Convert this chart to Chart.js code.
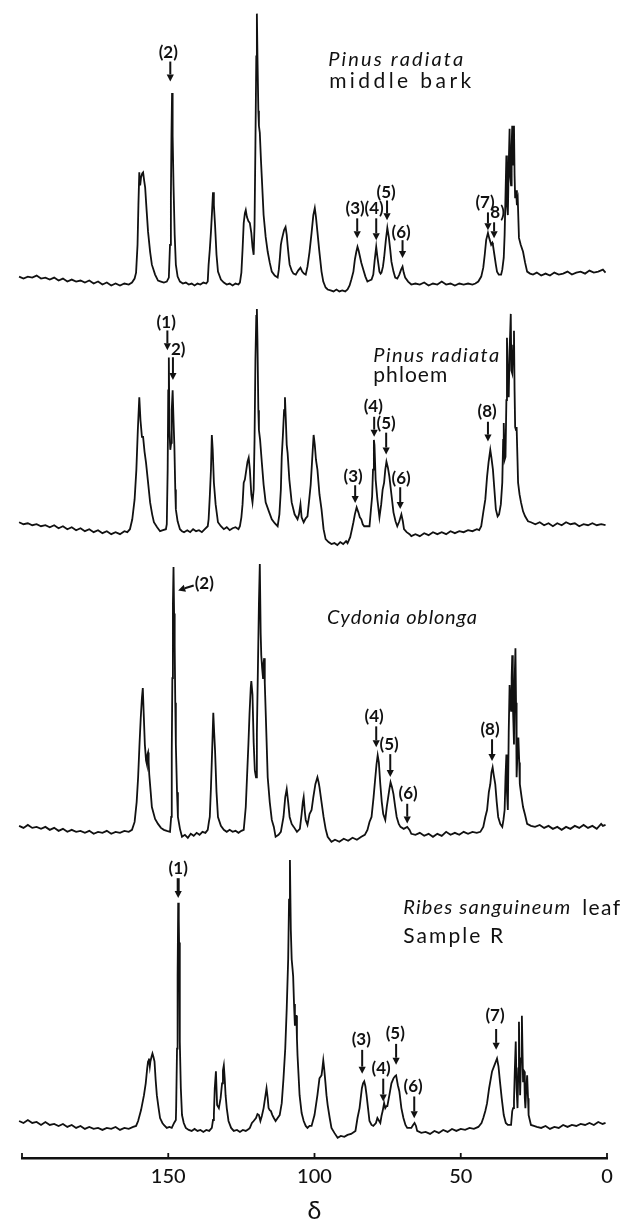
<!DOCTYPE html>
<html>
<head>
<meta charset="utf-8">
<script src="https://cdn.jsdelivr.net/npm/chart.js@4"></script>
<style>
  html, body { margin: 0; padding: 0; background: #ffffff; }
  #wrap { width: 626px; height: 1228px; position: relative; }
  canvas { display: block; }
</style>
</head>
<body>
<div id="wrap"><canvas id="c" width="626" height="1228"></canvas></div>
<script>
// ---- DATA (chemical shift δ, intensity) ----
const tickValues = [150, 100, 50, 0];

const barkData = [[201,8],[199.5,6],[198,8],[196.5,7],[195,9],[193.5,6],[192,7],[190.5,5],[189,7],[187.5,4],[186,6],[184.5,3],[183,5],[181.5,3],[180,4],[178.5,2],[177,4],[175.5,1],[174,3],[172.5,0],[171,2],[169.5,-1],[168,1],[166.5,-1],[165,1],[163.5,0],[162.4,2],
[161.5,6],[161,12],[160.5,40],[160.2,80],[159.9,113],[159.6,100],[159.3,108],[158.9,112],[158.6,113],[158.2,104],[157.9,98],[157.4,75],[156.9,53],[156.2,33],[155.6,20],[154.5,10],[153.5,4],[152.5,3],[151.5,2],[150.5,3],[149.8,7],[149.4,40],[149.1,87],[148.9,150],[148.7,193],[148.5,150],[148.2,100],[147.8,50],[147.4,20],[146.8,8],[146,3],[145,1],[144,2],[143,0],[142,1],[141,-1],[140,1],[139,0],[138,2],[137,1],[136.5,3],[136.2,20],[135.8,35],[135.4,53],[135,75],[134.7,93],[134.4,80],[134,60],[133.5,30],[133,13],[132,5],[131,2],[130,0],[129,1],[128,-1],[127,1],[126,0],[125.5,2],[125,12],[124.6,35],[124.2,62],[123.8,72],[123.5,75],[123.1,68],[122.6,64],[122.1,62],[121.6,52],[121.2,38],[120.8,30],[120.5,60],[120.2,140],[119.9,230],[119.7,273],[119.5,230],[119.2,175],[119,160],[118.7,153],[118.3,125],[118,107],[117.4,70],[116.7,48],[116,33],[115.3,22],[114.6,13],[113.6,9],[112.6,7],[112.2,15],[111.9,25],[111.5,40],[111.2,45],[110.8,50],[110.4,55],[109.9,58],[109.5,50],[109.2,40],[108.8,28],[108.5,20],[107.8,14],[107.2,11],[106.4,10],[105.6,14],[104.8,17],[104.2,13],[103.6,11],[103,10],[102.4,18],[101.7,33],[101,52],[100.4,70],[99.9,77],[99.5,68],[99,53],[98.4,35],[97.6,13],[97,3],[96.2,-3],[95.5,-5],[94.5,-6],[93.5,-7],[92.5,-5],[91.5,-7],[90.5,-6],[89.5,-7],[88.7,-5],[88,-1],[87.4,5],[86.7,13],[86.2,25],[85.7,33],[85.3,38],[84.9,34],[84.6,30],[84,22],[83.3,15],[82.6,8],[81.9,3],[81.2,4],[80.5,5],[79.9,10],[79.4,25],[78.9,38],[78.5,28],[77.8,13],[77.4,11],[77.1,12],[76.6,18],[76.2,27],[75.6,45],[75.1,57],[74.6,48],[74.1,35],[73.7,23],[73,13],[72.4,7],[71.7,6],[71,10],[70.4,15],[69.9,18],[69.5,12],[69,7],[68,3],[66.9,0],[65.5,1],[64,0],[62.5,2],[61,-1],[59.5,1],[58,0],[56.5,3],[55,0],[53.5,1],[52,-1],[50.5,1],[49,0],[47.5,1],[46,0],[45,1],[44,3],[43,8],[42.3,17],[41.8,30],[41.3,45],[40.7,52],[40.2,46],[39.6,40],[39.2,42],[39,40],[38.5,30],[38,20],[37.6,13],[37,10],[36.2,10],[35.8,15],[35.3,27],[35,50],[34.7,90],[34.4,130],[34.2,80],[33.9,70],[33.6,120],[33.3,157],[33.1,110],[32.8,100],[32.6,140],[32.4,160],[32.2,120],[32,150],[31.8,160],[31.6,110],[31.4,87],[31.1,95],[30.8,80],[30.5,85],[30.1,47],[29.5,40],[28.7,33],[28,22],[27.3,13],[26.3,11],[25.3,10],[24,12],[22.5,9],[21,11],[19.5,9],[18,12],[16.5,10],[15,11],[13.5,13],[12,10],[10.5,12],[9,13],[7.5,11],[6,14],[4.5,12],[3,13],[1.4,15],[0.5,12]];

const phloemData = [[201,7],[199.5,5],[198,6],[196.5,4],[195,5],[193.5,3],[192,4],[190.5,2],[189,4],[187.5,1],[186,3],[184.5,0],[183,2],[181.5,-1],[180,1],[178.5,-2],[177,0],[175.5,-3],[174,-1],[172.5,-4],[171,-2],[169.5,-5],[168,-3],[166.5,-5],[165,-2],[164,-3],[163.1,0],
[162.3,10],[161.5,30],[160.9,60],[160.4,100],[159.9,133],[159.5,110],[159,93],[158.6,93],[158.1,78],[157.6,67],[157,50],[156.2,27],[155.5,15],[154.9,7],[153.8,2],[152.8,-2],[151.8,-1],[150.8,0],[150.5,5],[150.2,60],[150,140],[149.8,173],[149.6,100],[149.3,80],[149,87],[148.8,120],[148.5,140],[148.2,110],[147.9,83],[147.6,40],[147.4,20],[146.8,8],[146,0],[145.3,-2],[144.6,-3],[143.5,-1],[142.5,-3],[141.5,0],[140.5,-2],[139.5,-1],[138.5,-3],[137.5,0],[136.5,3],[136.2,10],[135.8,33],[135.4,60],[135.1,95],[134.8,80],[134.4,47],[133.8,25],[133,7],[132,3],[131,0],[130,2],[129,-1],[128,1],[127,2],[126,0],[125.5,3],[125,12],[124.6,25],[124.2,47],[123.8,50],[123.3,60],[122.9,68],[122.5,72],[122.1,60],[121.6,35],[121.2,27],[120.8,40],[120.5,90],[120.2,170],[119.9,215],[119.7,222],[119.5,190],[119.2,120],[119,100],[118.6,90],[118,67],[117.4,45],[116.7,27],[115.6,18],[114.6,10],[113.6,6],[112.6,3],[112,15],[111.5,40],[111.2,73],[110.8,95],[110.4,120],[110.1,133],[109.8,110],[109.5,85],[109.2,77],[108.6,50],[107.8,27],[106.8,15],[105.8,10],[105.3,15],[104.8,25],[104.4,12],[103.7,7],[103,11],[102.4,13],[101.8,30],[101.3,45],[100.8,70],[100.3,95],[99.9,85],[99.5,70],[99,60],[98.3,35],[97.6,20],[96.9,0],[96.2,-10],[95.2,-13],[94.2,-15],[93.2,-14],[92.2,-16],[91.2,-13],[90.2,-15],[89.2,-12],[88.7,-14],[87.8,-8],[87.2,0],[86.7,7],[86.2,15],[85.6,22],[85,17],[84.5,12],[84,10],[83.5,5],[83,3],[82,3],[81.2,3],[80.7,20],[80.3,33],[80,60],[79.7,90],[79.5,85],[79.1,50],[78.5,30],[77.8,12],[77.2,25],[76.7,40],[76.2,47],[75.8,60],[75.4,68],[74.9,62],[74.4,53],[73.7,35],[73,17],[72.3,8],[71.7,3],[71,8],[70.3,15],[69.8,8],[69.4,0],[68.5,-3],[67.5,-5],[66.9,-7],[65.5,-5],[64,-7],[62.5,-4],[61,-6],[59.5,-3],[58,-5],[56.5,-3],[55,-5],[53.5,-2],[52,-4],[50.5,-2],[49,-3],[47.5,-1],[46,-2],[44.5,0],[43.7,-1],[43,3],[42.3,17],[41.6,30],[41,53],[40.5,67],[39.9,80],[39.5,72],[39,60],[38.5,40],[38,20],[37.4,13],[36.9,15],[36.3,25],[35.8,47],[35.5,90],[35.3,107],[35,70],[34.7,73],[34.4,130],[34.2,193],[33.9,150],[33.6,133],[33.3,180],[32.9,217],[32.7,160],[32.4,157],[32.1,185],[31.8,200],[31.6,140],[31.4,103],[31.1,100],[30.9,103],[30.6,70],[30.4,47],[29.9,35],[29.4,27],[28.7,18],[28,13],[27,8],[26,7],[24.5,5],[23,7],[21.5,4],[20,6],[18.5,3],[17,6],[15.5,4],[14,7],[12.5,5],[11,6],[9.5,3],[8,5],[6.5,4],[5,6],[3.5,4],[2,5],[0.5,4]];

const cydoniaData = [[201,6],[199.5,4],[198,7],[196.5,4],[195,5],[193.5,3],[192,5],[190.5,2],[189,4],[187.5,1],[186,3],[184.5,0],[183,2],[181.5,0],[180,1],[178.5,-1],[177,1],[175.5,-2],[174,0],[172.5,-1],[171,1],[169.5,-2],[168,0],[166.5,-1],[165,1],[163.5,0],[162.4,2],
[161.5,10],[160.8,30],[160.3,55],[159.8,90],[159.4,115],[159,135],[158.7,145],[158.4,120],[158,88],[157.6,72],[157.3,68],[157.1,78],[156.9,80],[156.7,70],[156.5,58],[156,40],[155.6,25],[154.5,13],[153.5,8],[152.5,4],[151.5,2],[150.5,1],[149.4,0],[149,15],[148.8,80],[148.6,155],[148.4,230],[148.2,267],[148,220],[147.8,188],[147.6,130],[147.4,88],[147,40],[146.7,15],[146,3],[145.3,-5],[144.3,-3],[143.3,-6],[142.3,-2],[141.3,-4],[140.3,-1],[139.3,-3],[138.3,0],[137.3,-1],[136.5,2],[136.1,10],[135.8,15],[135.4,45],[135.1,72],[134.8,100],[134.6,120],[134.3,100],[134,82],[133.5,40],[133,15],[132,6],[131,2],[130,0],[129,2],[128,0],[127,1],[126,-1],[125,1],[124.2,2],[123.8,15],[123.5,25],[123,60],[122.6,88],[122.2,120],[121.8,145],[121.6,152],[121.2,138],[120.8,90],[120.4,62],[120,55],[119.7,100],[119.4,155],[119,230],[118.7,270],[118.4,200],[118.2,178],[117.9,165],[117.6,155],[117.4,170],[117.2,175],[117,150],[116.7,122],[116,55],[115.3,30],[114.6,12],[113.9,5],[113.3,-5],[112.3,-3],[111.5,0],[110.6,15],[110,35],[109.5,43],[109,30],[108.5,15],[107.8,8],[107.1,5],[106,0],[105,3],[104.4,18],[104,30],[103.7,35],[103.3,20],[103,12],[102.4,7],[101.7,18],[101,22],[100.4,35],[99.7,48],[99,55],[98.6,50],[98.3,45],[97.6,30],[96.9,15],[96.2,3],[95.5,-5],[94.2,-10],[93,-8],[91.5,-10],[90,-7],[88.5,-9],[87,-6],[85.5,-8],[84,-5],[82.8,-3],[81.9,2],[81.2,10],[80.5,15],[79.8,35],[79.2,55],[78.8,68],[78.4,77],[78,70],[77.5,48],[77,30],[76.5,18],[75.8,12],[75.3,25],[74.8,35],[74.4,43],[74,50],[73.5,45],[73,38],[72.4,25],[71.9,15],[71.2,8],[70.6,5],[69.5,3],[68.3,5],[67.5,2],[66.9,-2],[65.5,-3],[64,-1],[62.5,-4],[61,-2],[59.5,-5],[58,-2],[56.5,-4],[55,0],[53.5,-3],[52,-1],[50.5,-3],[49,0],[47.5,-2],[46,0],[44.5,-1],[43.3,0],[42.3,5],[41.6,15],[41,22],[40.4,40],[39.9,48],[39.5,60],[39.1,65],[38.7,57],[38.2,48],[37.7,30],[37.2,15],[36.5,8],[35.8,5],[35.4,12],[35,22],[34.7,55],[34.4,78],[34.2,40],[33.9,22],[33.6,100],[33.3,148],[33,130],[32.8,122],[32.6,155],[32.4,178],[32.2,130],[32,110],[31.8,88],[31.6,150],[31.3,185],[31.1,130],[30.9,55],[30.6,80],[30.3,95],[30,70],[29.8,48],[29.2,35],[28.7,25],[28,17],[27.3,8],[26,6],[24.6,5],[23,7],[21.5,4],[20,6],[18.5,3],[17,5],[15.5,2],[14,5],[12.5,3],[11,6],[9.5,4],[8,7],[6.5,4],[5,6],[3.5,3],[2,8],[1.4,6],[0.5,7]];

const ribesData = [[201,7],[199.5,5],[198,8],[196.5,5],[195,6],[193.5,3],[192,6],[190.5,3],[189,4],[187.5,2],[186,4],[184.5,1],[183,3],[181.5,0],[180,2],[178.5,-1],[177,1],[175.5,-1],[174,0],[172.5,-2],[171,0],[169.5,-1],[168,1],[166.5,-2],[165,0],[163.5,-1],[162,1],[161,2],[160.3,7],[159.3,18],[158.3,33],[157.7,45],[157.2,60],[156.9,67],[156.6,70],[156.3,62],[156.1,67],[155.7,72],[155.4,75],[155.1,72],[154.7,67],[154.3,48],[153.9,33],[153.3,20],[152.8,10],[152,5],[151.5,3],[150.5,0],[149.6,1],[148.8,0],[148,5],[147.4,8],[147.3,20],[147,80],[146.8,153],[146.6,227],[146.4,210],[146.3,187],[146.1,120],[146,87],[145.7,40],[145.3,13],[144.7,5],[144,0],[143,-2],[142,-3],[141,-1],[140,-3],[139,-2],[138,-4],[137,-2],[136,-3],[135.1,0],[134.7,8],[134.4,13],[134.1,40],[133.7,57],[133.5,40],[133.3,23],[132.7,20],[132.1,30],[131.6,45],[131.3,58],[131,63],[130.7,50],[130.4,33],[130,20],[129.4,7],[128.5,0],[127.6,-3],[126.5,-2],[125.5,-4],[124.5,-2],[123.5,-3],[122.5,-1],[122.1,0],[121.4,5],[120.8,7],[120,10],[119.5,14],[119,13],[118.5,7],[118,12],[117.4,20],[116.9,30],[116.4,40],[116,30],[115.7,20],[115.3,18],[114.9,17],[114.4,13],[113.9,10],[113.3,7],[112.6,10],[111.9,13],[111.2,25],[110.6,50],[110,80],[109.5,120],[109,170],[108.7,230],[108.4,270],[108.1,200],[107.8,170],[107.5,160],[107.3,153],[107,125],[106.7,103],[106.4,113],[106.2,113],[106,90],[105.8,73],[105.1,33],[104.4,15],[103.7,7],[103,2],[102.4,0],[101.7,2],[101,2],[100,13],[99,33],[98.3,50],[97.6,53],[97.3,60],[97,68],[96.7,60],[96.3,47],[95.9,33],[95.5,23],[94.8,10],[94.2,0],[93.2,-5],[92.1,-10],[91,-8],[89.8,-9],[88.7,-7],[87.5,-6],[86.5,-4],[86,-3],[85.3,10],[84.6,20],[84.2,30],[83.8,40],[83.4,45],[83,47],[82.6,42],[82.2,33],[81.7,20],[81.2,7],[80.5,3],[79.9,2],[79,5],[78.5,10],[78.1,8],[77.5,5],[77.1,12],[76.7,17],[76.2,25],[75.8,20],[75.4,22],[75.1,22],[74.4,33],[73.7,45],[73,50],[72.5,52],[72.1,53],[71.5,43],[71,37],[70.3,20],[69.6,10],[68.9,3],[68.3,0],[67.5,0],[66.9,0],[66.3,3],[65.8,5],[65.3,2],[64.9,-3],[63.5,-5],[62,-4],[60.5,-6],[59,-3],[57.5,-5],[56,-2],[54.5,-4],[53,-1],[51.5,-3],[50,-1],[48.5,-2],[47,0],[45.5,-1],[44,1],[42.9,5],[42.3,10],[41.6,17],[41,25],[40.3,40],[39.3,57],[38.5,63],[37.6,70],[37.1,62],[36.6,47],[36,30],[35.3,13],[34.6,5],[33.9,3],[32.8,3],[32.4,17],[32.1,20],[31.8,27],[31.5,60],[31.2,87],[30.9,40],[30.6,20],[30.3,60],[30.1,107],[29.9,70],[29.7,33],[29.4,70],[29.1,113],[28.9,80],[28.7,47],[28.5,58],[28.3,57],[28.1,30],[27.9,20],[27.6,40],[27.3,53],[27,30],[26.8,13],[26.4,8],[26,3],[25,2],[24,1],[22.5,0],[21,2],[19.5,-1],[18,1],[16.5,0],[15,3],[13.5,1],[12,3],[10.5,2],[9,4],[7.5,3],[6,5],[4.5,3],[3,6],[1.5,4],[0.5,5]];

// ---- ANNOTATIONS (positions in data units: δ and intensity of each trace) ----
const barkTexts = [
  {t:'(2)', at:150.0, v:233.7},
  {t:'Pinus radiata', at:95.3, v:226.7, italic:true, w:135, left:true},
  {t:'middle bark', at:95.0, v:204.7, w:142, left:true},
  {t:'(3)', at:86.1, v:76.7}, {t:'(4)', at:79.6, v:76.7}, {t:'(5)', at:75.5, v:92.7},
  {t:'(6)', at:70.4, v:52.7}, {t:'(7)', at:41.7, v:82.7}, {t:'8)', at:37.4, v:72.7}
];
const barkArrows = [
  {at:149.3, from:224.7, to:204.7}, {at:85.4, from:66.7, to:46.7}, {at:78.9, from:66.7, to:44.7},
  {at:75.2, from:84.7, to:64.7}, {at:69.9, from:44.7, to:26.7}, {at:40.7, from:72.7, to:54.7},
  {at:38.6, from:62.7, to:46.7}
];
const phloemTexts = [
  {t:'(1)', at:150.7, v:208.3}, {t:'2)', at:146.6, v:181.3},
  {t:'Pinus radiata', at:79.9, v:175.3, italic:true, w:126, left:true},
  {t:'phloem', at:79.9, v:155.3, w:74, left:true},
  {t:'(4)', at:79.9, v:123.3}, {t:'(5)', at:75.5, v:106.3}, {t:'(3)', at:86.8, v:53.3},
  {t:'(6)', at:70.4, v:51.3}, {t:'(8)', at:41.0, v:118.3}
];
const phloemArrows = [
  {at:150.3, from:200.3, to:180.3}, {at:148.4, from:173.3, to:150.3}, {at:79.6, from:113.3, to:93.3},
  {at:75.5, from:97.3, to:75.3}, {at:86.1, from:44.3, to:26.3}, {at:70.7, from:42.3, to:20.3},
  {at:40.7, from:108.3, to:88.3}
];
const cydoniaTexts = [
  {t:'(2)', at:137.7, v:250.3},
  {t:'Cydonia oblonga', at:95.7, v:216.3, italic:true, w:150, left:true},
  {t:'(4)', at:79.6, v:116.3}, {t:'(5)', at:74.5, v:88.3}, {t:'(6)', at:68.0, v:38.3}, {t:'(8)', at:40.0, v:103.3}
];
const cydoniaArrows = [
  {at:141.3, from:248.3, at2:146.6, to:243.3}, {at:78.9, from:106.3, to:85.3}, {at:74.1, from:78.3, to:55.3},
  {at:68.3, from:28.3, to:8.3}, {at:39.3, from:93.3, to:71.3}
];
const ribesTexts = [
  {t:'(1)', at:146.6, v:261.7},
  {t:'Ribes sanguineum', at:69.7, v:221.7, italic:true, w:167, left:true},
  {t:'leaf', at:8.5, v:221.7, w:38, left:true},
  {t:'Sample R', at:69.7, v:193.7, w:100, left:true},
  {t:'(3)', at:84.0, v:88.7}, {t:'(5)', at:72.4, v:94.7}, {t:'(4)', at:77.2, v:59.7},
  {t:'(6)', at:66.3, v:41.7}, {t:'(7)', at:38.3, v:113.7}
];
const ribesArrows = [
  {at:146.6, from:251.7, to:231.7, w:3}, {at:83.7, from:78.7, to:54.7}, {at:72.1, from:84.7, to:63.7},
  {at:76.5, from:49.7, to:26.7}, {at:65.9, from:31.7, to:9.7}, {at:37.9, from:99.7, to:78.7}
];

// ---- chart set-up ----
const INK = '#111111';
const FONT = 'Lato, "DejaVu Sans", sans-serif';

const traces = [
  {id:'y1', data:barkData,    texts:barkTexts,    arrows:barkArrows,    min:-3.3,  max:281.7, weight:285},
  {id:'y2', data:phloemData,  texts:phloemTexts,  arrows:phloemArrows,  min:-26.7, max:243.3, weight:270},
  {id:'y3', data:cydoniaData, texts:cydoniaTexts, arrows:cydoniaArrows, min:-21.7, max:278.3, weight:300},
  {id:'y4', data:ribesData,   texts:ribesTexts,   arrows:ribesArrows,   min:-30.3, max:276.7, weight:307}
];

function bandScale(tr) {
  return {
    type: 'linear', position: 'right', stack: 'spectra', stackWeight: tr.weight,
    min: tr.min, max: tr.max, display: true,
    ticks: { display: false }, grid: { display: false, drawTicks: false },
    border: { display: false }, title: { display: false }
  };
}

function drawArrow(ctx, x0, y0, x1, y1, w) {
  const ang = Math.atan2(y1 - y0, x1 - x0);
  const hl = 7, hw = 3.6;
  const bx = x1 - hl * Math.cos(ang), by = y1 - hl * Math.sin(ang);
  ctx.save();
  ctx.strokeStyle = INK; ctx.fillStyle = INK; ctx.lineWidth = w || 2;
  ctx.beginPath(); ctx.moveTo(x0, y0); ctx.lineTo(bx, by); ctx.stroke();
  ctx.beginPath();
  ctx.moveTo(x1, y1);
  ctx.lineTo(bx + hw * Math.sin(ang), by - hw * Math.cos(ang));
  ctx.lineTo(bx - hw * Math.sin(ang), by + hw * Math.cos(ang));
  ctx.closePath(); ctx.fill();
  ctx.restore();
}

function drawText(ctx, lab, x, y) {
  ctx.save();
  ctx.fillStyle = INK;
  ctx.textBaseline = 'middle';
  if (lab.left) {
    ctx.font = (lab.italic ? 'italic 20px ' : '21px ') + FONT;
    const chars = [...lab.t];
    const widths = chars.map(ch => ctx.measureText(ch).width);
    const natural = widths.reduce((a, b) => a + b, 0);
    const gap = chars.length > 1 ? (lab.w - natural) / (chars.length - 1) : 0;
    let cx = x;
    ctx.textAlign = 'left';
    chars.forEach((ch, i) => { ctx.fillText(ch, cx, y); cx += widths[i] + gap; });
  } else {
    ctx.font = 'bold 17px ' + FONT;
    ctx.textAlign = 'center';
    ctx.fillText(lab.t, x, y);
  }
  ctx.restore();
}

const annotate = {
  id: 'annotate',
  afterDatasetsDraw(chart) {
    const ctx = chart.ctx;
    const xs = chart.scales.x;
    traces.forEach(tr => {
      const ys = chart.scales[tr.id];
      tr.arrows.forEach(a => {
        const x0 = xs.getPixelForValue(a.at);
        const x1 = xs.getPixelForValue(a.at2 !== undefined ? a.at2 : a.at);
        drawArrow(ctx, x0, ys.getPixelForValue(a.from), x1, ys.getPixelForValue(a.to), a.w);
      });
      tr.texts.forEach(lab => drawText(ctx, lab, xs.getPixelForValue(lab.at), ys.getPixelForValue(lab.v)));
    });
    // small upward tick marks on the δ axis
    ctx.save();
    ctx.strokeStyle = INK; ctx.lineWidth = 1.8;
    const yb = xs.top;
    [200].concat(tickValues).forEach(v => {
      const x = xs.getPixelForValue(v);
      ctx.beginPath(); ctx.moveTo(x, yb); ctx.lineTo(x, yb - 5); ctx.stroke();
    });
    ctx.restore();
  }
};

const scales = {
  x: {
    type: 'linear', reverse: true, min: 0, max: 200, position: 'bottom',
    border: { display: true, color: INK, width: 2.4 },
    grid: { display: false, drawTicks: false },
    ticks: {
      stepSize: 50, autoSkip: false, maxRotation: 0, padding: 7, color: INK,
      font: { family: FONT, size: 20, weight: '500' },
      callback: v => tickValues.includes(v) ? String(v) : ''
    },
    title: { display: true, text: 'δ', color: INK, font: { family: FONT, size: 25 }, padding: { top: 0, bottom: 2 } }
  }
};
traces.forEach(tr => { scales[tr.id] = bandScale(tr); });

new Chart(document.getElementById('c'), {
  type: 'line',
  data: {
    datasets: traces.map(tr => ({
      data: tr.data.map(([x, y]) => ({ x, y })),
      yAxisID: tr.id,
      borderColor: INK, borderWidth: 1.8, pointRadius: 0, tension: 0, fill: false, clip: false
    }))
  },
  options: {
    responsive: false, animation: false, events: [],
    layout: { padding: { left: 22, right: 19, top: 5, bottom: 0 } },
    plugins: { legend: { display: false }, tooltip: { enabled: false } },
    scales
  },
  plugins: [annotate]
});
</script>
</body>
</html>
